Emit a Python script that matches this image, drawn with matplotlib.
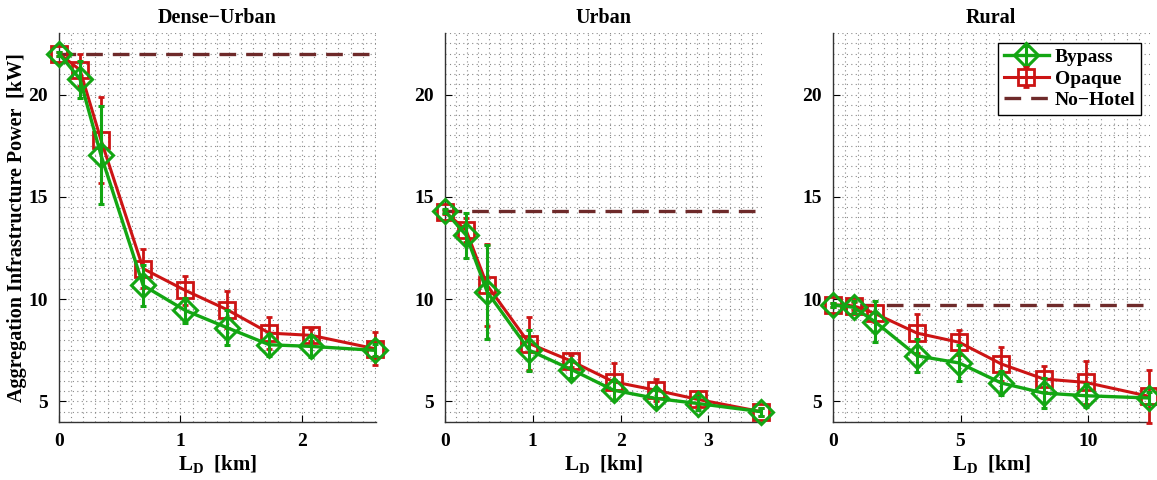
import matplotlib
matplotlib.use("Agg")
import matplotlib.pyplot as plt
from matplotlib.ticker import MultipleLocator

plt.rcParams['font.family'] = ['Liberation Serif', 'DejaVu Serif']
plt.rcParams['font.weight'] = 'bold'
plt.rcParams['mathtext.fontset'] = 'custom'
plt.rcParams['mathtext.rm'] = 'Liberation Serif:bold'
plt.rcParams['mathtext.bf'] = 'Liberation Serif:bold'
plt.rcParams['mathtext.it'] = 'Liberation Serif:bold'

titles = ["Dense\u2212Urban", "Urban", "Rural"]

x_dense = [0, 0.173, 0.346, 0.693, 1.039, 1.386, 1.732, 2.078, 2.598]
x_urban = [0, 0.24, 0.48, 0.96, 1.44, 1.92, 2.40, 2.88, 3.60]
x_rural = [0, 0.825, 1.65, 3.3, 4.95, 6.6, 8.25, 9.9, 12.375]

opaque_dense = [22.0, 21.2, 17.77, 11.49, 10.43, 9.48, 8.34, 8.23, 7.58]
bypass_dense = [22.0, 20.75, 17.03, 10.67, 9.45, 8.6, 7.77, 7.69, 7.5]
opaque_dense_err = [0.1, 0.8, 2.1, 0.95, 0.7, 0.9, 0.8, 0.3, 0.8]
bypass_dense_err = [0.1, 0.9, 2.4, 1.0, 0.6, 0.85, 0.55, 0.5, 0.3]
nohotel_dense = 22.0

opaque_urban = [14.27, 13.37, 10.68, 7.83, 6.97, 5.96, 5.55, 5.1, 4.5]
bypass_urban = [14.3, 13.13, 10.36, 7.5, 6.56, 5.55, 5.15, 4.9, 4.5]
opaque_urban_err = [0.1, 0.6, 2.0, 1.3, 0.3, 0.9, 0.55, 0.3, 0.2]
bypass_urban_err = [0.1, 1.1, 2.3, 1.0, 0.4, 0.5, 0.4, 0.3, 0.2]
nohotel_urban = 14.3

opaque_rural = [9.72, 9.67, 9.3, 8.34, 7.89, 6.83, 6.1, 5.93, 5.25]
bypass_rural = [9.72, 9.6, 8.9, 7.23, 6.88, 5.9, 5.41, 5.28, 5.17]
opaque_rural_err = [0.1, 0.2, 0.4, 0.95, 0.6, 0.85, 0.65, 1.05, 1.3]
bypass_rural_err = [0.1, 0.3, 1.0, 0.8, 0.9, 0.6, 0.75, 0.55, 0.3]
nohotel_rural = 9.72

xs = [x_dense, x_urban, x_rural]
opaques = [opaque_dense, opaque_urban, opaque_rural]
bypasses = [bypass_dense, bypass_urban, bypass_rural]
opaque_errs = [opaque_dense_err, opaque_urban_err, opaque_rural_err]
bypass_errs = [bypass_dense_err, bypass_urban_err, bypass_rural_err]
nohotels = [nohotel_dense, nohotel_urban, nohotel_rural]
xmax = [2.61, 3.61, 12.4]
xmajor = [1, 1, 5]
xminor = [0.1, 0.125, 0.5]

green = '#13a613'
red = '#cc1414'
brown = '#6e2a2a'

fig = plt.figure(figsize=(11.57, 4.8), dpi=100)
lefts = [0.051, 0.3846, 0.7197]
width = 0.274
bottom = 0.121
height = 0.81

for i in range(3):
    ax = fig.add_axes([lefts[i], bottom, width, height])
    x = xs[i]
    ax.axhline(nohotels[i], color=brown, lw=2.4, ls=(0, (5, 3)), label='No\u2212Hotel', zorder=2)
    eo = ax.errorbar(x, opaques[i], yerr=opaque_errs[i], color=red, lw=2.2,
                     marker='s', ms=11, mfc='none', mew=2.0, capsize=2.5, elinewidth=2.0,
                     label='Opaque', zorder=3)
    eb = ax.errorbar(x, bypasses[i], yerr=bypass_errs[i], color=green, lw=2.4,
                     marker='D', ms=12, mfc='none', mew=2.2, capsize=2.5, elinewidth=2.2,
                     label='Bypass', zorder=4)
    for cont in (eo, eb):
        cont.lines[0].set_clip_on(False)
        for c in cont.lines[1]:
            c.set_clip_on(False)
        for c in cont.lines[2]:
            c.set_clip_on(False)
    ax.set_xlim(0, xmax[i])
    ax.set_ylim(4, 23)
    ax.set_yticks([5, 10, 15, 20])
    ax.xaxis.set_major_locator(MultipleLocator(xmajor[i]))
    ax.xaxis.set_minor_locator(MultipleLocator(xminor[i]))
    ax.yaxis.set_minor_locator(MultipleLocator(0.5))
    ax.grid(True, which='both', color='#8a8a8a', ls=(0, (1, 3)), lw=0.8)
    ax.set_axisbelow(True)
    for s in ['top', 'right']:
        ax.spines[s].set_visible(False)
    for s in ['left', 'bottom']:
        ax.spines[s].set_color('#333333')
        ax.spines[s].set_linewidth(1.0)
    ax.tick_params(which='major', direction='in', length=5, labelsize=14, pad=8)
    ax.tick_params(which='minor', length=0)
    for lab in ax.get_xticklabels() + ax.get_yticklabels():
        lab.set_fontweight('bold')
    ax.set_title(titles[i], fontsize=14.5, fontweight='bold', pad=7)
    ax.set_xlabel(r'L$_\mathbf{D}$  [km]', fontsize=15, fontweight='bold', labelpad=2)
    if i == 0:
        ax.set_ylabel('Aggregation Infrastructure Power  [kW]', fontsize=14.5,
                      fontweight='bold', labelpad=1)
    if i == 2:
        handles, labels = ax.get_legend_handles_labels()
        order = [labels.index('Bypass'), labels.index('Opaque'), labels.index('No\u2212Hotel')]
        leg = ax.legend([handles[k] for k in order], [labels[k] for k in order],
                        loc='upper right', bbox_to_anchor=(0.985, 0.985),
                        fontsize=14, frameon=True, fancybox=False, framealpha=1,
                        edgecolor='black', handlelength=2.3, borderpad=0.3,
                        labelspacing=0.2, handletextpad=0.3, borderaxespad=0.2)
        leg.get_frame().set_linewidth(1.0)
        for t in leg.get_texts():
            t.set_fontweight('bold')

fig.savefig('out.png', dpi=100)
